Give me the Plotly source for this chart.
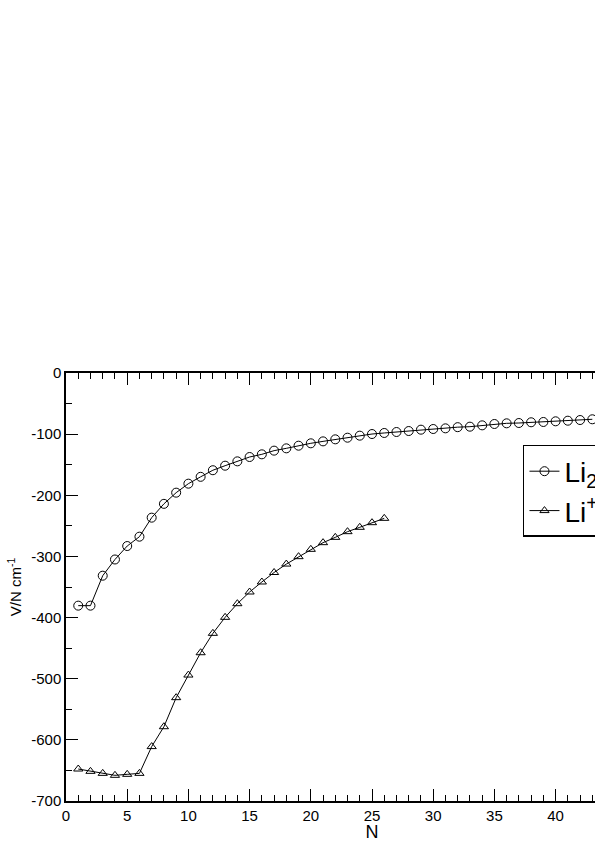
import plotly.graph_objects as go

# values
n_li2 = list(range(1, 44))
v_li2 = [-380.5, -380.5, -331.5, -305, -283, -267.7, -236.6, -214, -195.7, -181,
         -169.8, -159, -151.6, -144.5, -137.4, -133, -127, -123.2, -118.9, -115,
         -111.8, -108.5, -105.8, -102.5, -99.8, -98.1, -96.5, -94.9, -92.7, -91.6,
         -90.5, -88.6, -87.8, -85.6, -83.4, -82.3, -81.8, -80.6, -80.1, -79,
         -78, -76.9, -75.7]

n_li_plus = list(range(1, 27))
v_li_plus = [-647.7, -651.5, -654.8, -658, -656.4, -654.8, -611, -578.5, -531, -494,
             -457.5, -425.8, -399.6, -377.3, -358.2, -341.8, -326.3, -312.5, -300.4, -288.4,
             -277.5, -268.8, -259.5, -252.4, -244.8, -237.7]

y_ticks = [0, -100, -200, -300, -400, -500, -600, -700]
y_labels = ["0", "-100", "-200", "-300", "-400", "-500", "-600", "-700"]
x_ticks = [0, 5, 10, 15, 20, 25, 30, 35, 40, 45, 50]

font = "Liberation Sans, Arial, sans-serif"

fig = go.Figure()
fig.add_trace(go.Scatter(
    x=n_li2, y=v_li2, mode="lines+markers", name="Li<sub>2</sub>",
    line=dict(color="black", width=1),
    marker=dict(symbol="circle-open", size=9, color="black", line=dict(width=1))))
fig.add_trace(go.Scatter(
    x=n_li_plus, y=v_li_plus, mode="lines+markers", name="Li<sup>+</sup>",
    line=dict(color="black", width=1),
    marker=dict(symbol="triangle-up-open", size=8, color="black", line=dict(width=1))))

axis_common = dict(
    showgrid=False, zeroline=False, showline=True, linecolor="black", linewidth=1.5,
    mirror="allticks", ticks="inside", tickcolor="black", tickwidth=1.2, ticklen=12,
    automargin=False,
    tickfont=dict(family=font, size=15, color="black"))

fig.update_xaxes(range=[0, 50], tickvals=x_ticks,
                 minor=dict(ticks="inside", dtick=1, ticklen=6, tickcolor="black", tickwidth=1),
                 title=dict(text="N", font=dict(family=font, size=18, color="black"), standoff=2),
                 **axis_common)
fig.update_yaxes(range=[-700, 0], tickvals=y_ticks, ticktext=y_labels,
                 minor=dict(ticks="inside", dtick=50, ticklen=6, tickcolor="black", tickwidth=1),
                 title=dict(text="V/N cm<sup>-1</sup>", font=dict(family=font, size=15, color="black"), standoff=6),
                 **axis_common)

fig.update_layout(
    width=700, height=842,
    margin=dict(l=66, r=22, t=373, b=41),
    paper_bgcolor="white", plot_bgcolor="white",
    font=dict(family=font, color="black"),
    legend=dict(x=0.7467, y=0.8318, xanchor="left", yanchor="top",
                bordercolor="black", borderwidth=1.5, bgcolor="white",
                font=dict(family=font, size=28, color="black"),
                itemwidth=30, tracegroupgap=0),
    showlegend=True)

fig.write_html("out.html", config={"displayModeBar": False},
               post_script="document.body.style.margin='0';document.body.style.overflow='hidden';")
